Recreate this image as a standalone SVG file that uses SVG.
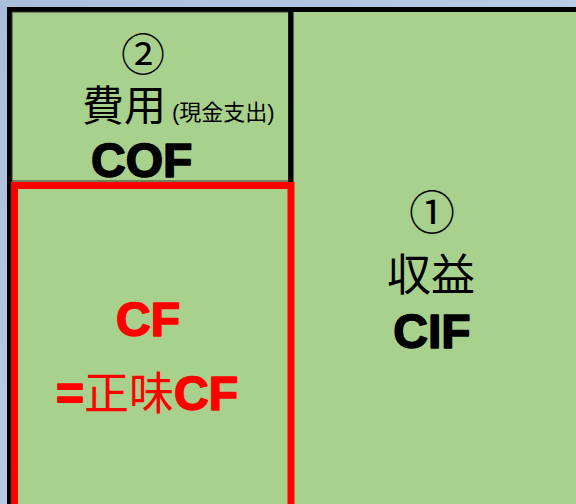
<svg xmlns="http://www.w3.org/2000/svg" width="576" height="504" viewBox="0 0 576 504">
  <defs>
    <linearGradient id="bg" x1="0" y1="0" x2="1" y2="1">
      <stop offset="0" stop-color="#a8bedb"/>
      <stop offset="1" stop-color="#c8dcef"/>
    </linearGradient>
  </defs>
  <style>
    .jp { font-family: "Noto Sans CJK JP", sans-serif; fill: #000; }
    .lat { font-family: "Liberation Sans", Arial, sans-serif; font-weight: bold; fill: #000; stroke: #000; stroke-width: 1.6; stroke-linejoin: round; }
    .red { fill: #ff0000; }
    .lat.red { stroke: #ff0000; }
  </style>
  <rect x="0" y="0" width="576" height="504" fill="url(#bg)"/>
  <g id="outer">
    <rect x="9.5" y="9.5" width="580" height="510" fill="#a9d18e" stroke="#000" stroke-width="5"/>
  </g>
  <g id="cost-box">
    <rect x="12" y="12" width="276.5" height="169" fill="none" stroke="#333" stroke-width="1"/>
    <line x1="291" y1="9" x2="291" y2="183" stroke="#000" stroke-width="5"/>
    <text class="jp" x="143" y="71" font-size="44" text-anchor="middle">②</text>
    <text class="jp" x="82" y="121" font-size="42">費用</text>
    <text class="jp" x="172" y="120" font-size="22"><tspan font-family="Liberation Sans, sans-serif">(</tspan>現金支出<tspan font-family="Liberation Sans, sans-serif">)</tspan></text>
    <text class="lat" x="91" y="177" font-size="48">COF</text>
  </g>
  <g id="cf-box">
    <rect x="14.5" y="185.5" width="276.5" height="330" fill="#a9d18e" stroke="#ff0000" stroke-width="7"/>
    <text class="lat red" x="148" y="336" font-size="48" text-anchor="middle">CF</text>
    <text class="red" x="56" y="410" font-size="48"><tspan class="lat red">=</tspan><tspan font-family="Noto Sans CJK JP, sans-serif" font-size="45">正味</tspan><tspan class="lat red">CF</tspan></text>
  </g>
  <g id="income-box">
    <text class="jp" x="432" y="229" font-size="46" text-anchor="middle">①</text>
    <text class="jp" x="431" y="291" font-size="44" text-anchor="middle">収益</text>
    <text class="lat" x="432" y="348" font-size="48" text-anchor="middle">CIF</text>
  </g>
</svg>
